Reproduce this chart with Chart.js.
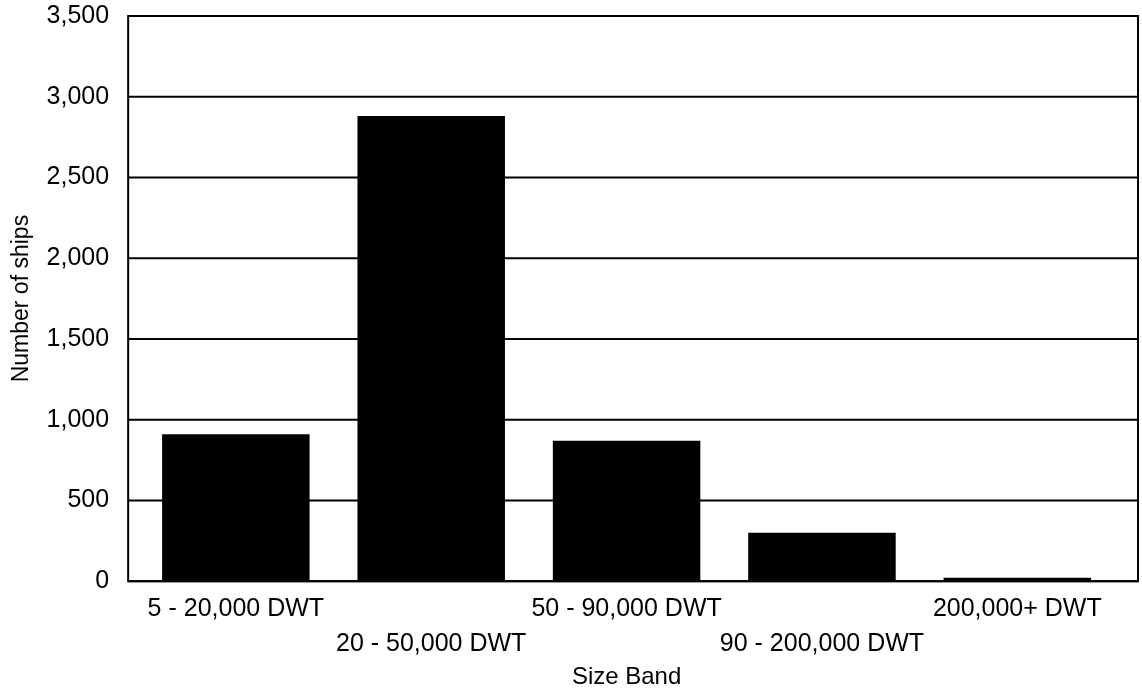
<!DOCTYPE html>
<html>
<head>
<meta charset="utf-8">
<script src="https://cdn.jsdelivr.net/npm/chart.js@4/dist/chart.umd.min.js"></script>
<style>
  html, body { margin: 0; padding: 0; background: #fff; }
  #wrap { width: 1142px; height: 691px; }
</style>
</head>
<body>
<div id="wrap"><canvas id="chart"></canvas></div>
<script>
/* Number of ships by size band */
var BANDS = ['5 - 20,000 DWT', '20 - 50,000 DWT', '50 - 90,000 DWT', '90 - 200,000 DWT', '200,000+ DWT'];
var SHIPS = [910, 2880, 870, 300, 22];
var Y_MAX = 3500, Y_STEP = 500;

var FAMILY = 'Liberation Sans';

/* stagger the labels: odd ones drop to a second line */
var labels = BANDS.map(function (b, i) { return i % 2 ? ['', b] : [b]; });

/* the plot frame sits a little outside the category band (as in the original) */
var FRAME_L = 10, FRAME_R = 23;

var frame = {
  id: 'frame',
  beforeDatasetsDraw: function (chart) {
    var a = chart.chartArea, ctx = chart.ctx, ys = chart.scales.y;
    ctx.save();
    ctx.strokeStyle = '#000'; ctx.lineWidth = 2;
    ys.ticks.forEach(function (t) {
      var y = ys.getPixelForValue(t.value);
      ctx.beginPath(); ctx.moveTo(a.left - FRAME_L, y); ctx.lineTo(a.right + FRAME_R, y); ctx.stroke();
    });
    ctx.restore();
  },
  afterDatasetsDraw: function (chart) {
    var a = chart.chartArea, ctx = chart.ctx;
    ctx.save();
    ctx.strokeStyle = '#000'; ctx.lineWidth = 2;
    ctx.strokeRect(a.left - FRAME_L, a.top, a.right - a.left + FRAME_L + FRAME_R, a.bottom - a.top);
    ctx.restore();
  }
};

new Chart(document.getElementById('chart'), {
  type: 'bar',
  data: {
    labels: labels,
    datasets: [{
      data: SHIPS,
      backgroundColor: '#000',
      borderWidth: 0,
      barPercentage: 0.755,
      categoryPercentage: 1
    }]
  },
  options: {
    responsive: true,
    maintainAspectRatio: false,
    animation: false,
    layout: { padding: { top: 0, right: 27, left: 8, bottom: 0 } },
    plugins: { legend: { display: false }, tooltip: { enabled: false } },
    scales: {
      x: {
        grid: { display: false, drawTicks: false },
        border: { display: false },
        ticks: { color: '#000', font: { family: FAMILY, size: 25, lineHeight: 1.4 }, maxRotation: 0, autoSkip: false, padding: 10 },
        title: { display: true, text: 'Size Band', color: '#000', font: { family: FAMILY, size: 24 }, padding: { top: -8, bottom: -1 } }
      },
      y: {
        min: 0, max: Y_MAX,
        /* transparent tick marks give the label gap without pushing the top down */
        grid: { display: true, drawOnChartArea: false, drawTicks: true, tickLength: 28, tickColor: 'rgba(0,0,0,0)' },
        border: { display: false },
        ticks: {
          stepSize: Y_STEP, color: '#000', padding: 1,
          font: { family: FAMILY, size: 25 },
          callback: function (v) { return v.toLocaleString('en-US'); }
        },
        title: { display: true, text: 'Number of ships', color: '#000', font: { family: FAMILY, size: 23 }, padding: { top: 0, bottom: 10 } }
      }
    }
  },
  plugins: [frame]
});
</script>
</body>
</html>
